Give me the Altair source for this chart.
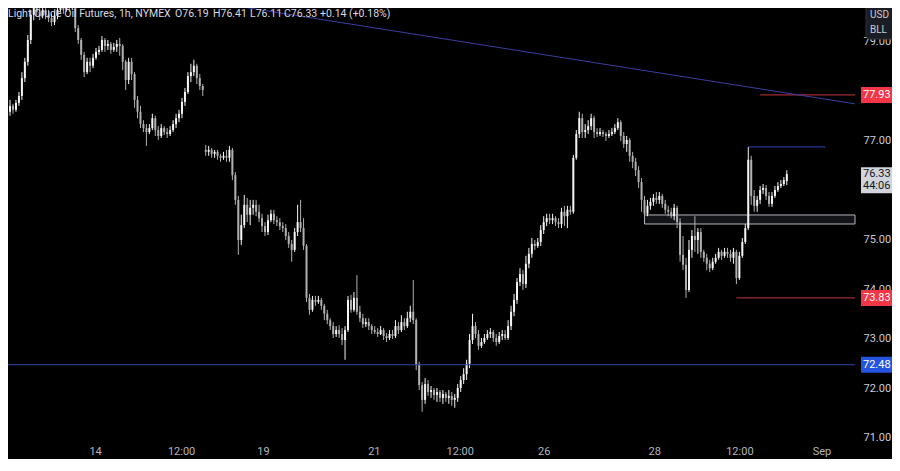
import altair as alt
import pandas as pd

# ---- hourly candles ----
opens = [77.42,77.59,77.71,77.63,77.77,77.91,78.27,78.60,79.04,79.55,79.75,79.61,79.53,79.65,79.55,79.48,79.40,79.53,79.65,79.73,
         79.65,79.77,79.69,79.77,79.28,79.04,78.74,78.39,78.60,78.52,78.68,78.80,78.84,79.04,78.92,78.96,78.84,78.90,78.96,78.92,
         78.60,78.23,78.60,78.35,77.83,77.59,77.34,77.26,77.18,77.26,77.46,77.22,77.10,77.26,77.18,77.14,77.22,77.34,77.46,77.55,
         77.79,77.99,78.31,78.39,78.52,78.27,78.11,76.82,76.78,76.82,76.74,76.78,76.70,76.66,76.70,76.66,76.82,76.31,75.81,75.00,
         75.30,75.71,75.51,75.65,75.71,75.57,75.44,75.28,75.16,75.40,75.53,75.40,75.36,75.28,75.24,75.08,74.92,74.80,75.16,75.36,
         75.24,74.88,73.83,73.59,73.79,73.75,73.79,73.67,73.51,73.38,73.26,73.10,73.18,73.10,72.98,73.18,73.79,73.59,73.83,73.55,
         73.42,73.30,73.34,73.26,73.18,73.14,73.10,73.18,73.06,73.02,73.10,73.06,73.26,73.18,73.34,73.26,73.42,73.55,73.38,72.48,
         72.07,71.77,72.09,71.93,71.97,71.87,71.93,71.81,71.89,71.81,71.85,71.77,71.81,72.01,72.17,72.29,72.50,72.98,73.26,73.10,
         72.86,72.94,73.02,73.10,73.14,73.02,72.94,73.06,73.10,73.02,73.26,73.55,73.79,74.15,74.31,74.11,74.52,74.72,74.92,74.88,
         74.96,75.20,75.36,75.44,75.40,75.44,75.36,75.32,75.57,75.48,75.61,75.57,76.66,77.14,77.46,77.18,77.22,77.30,77.46,77.18,
         77.14,77.18,77.14,77.10,77.14,77.18,77.26,77.38,77.10,76.94,77.02,76.70,76.58,76.41,76.17,75.81,75.53,75.69,75.77,75.85,
         75.81,75.89,75.73,75.61,75.57,75.48,75.65,75.36,74.70,74.50,73.99,74.80,75.08,75.00,75.16,74.76,74.64,74.52,74.43,74.56,
         74.64,74.76,74.68,74.76,74.72,74.64,74.76,74.23,74.68,74.96,75.24,76.62,75.89,75.69,75.81,76.01,76.05,75.89,75.73,75.89,
         76.01,76.09,76.13,76.19]
highs = [77.73,77.83,77.75,77.83,77.99,78.39,78.68,79.14,79.65,79.91,79.85,79.69,79.73,79.73,79.65,79.57,79.61,79.75,79.85,79.81,
         79.89,79.85,79.93,79.85,79.34,79.08,78.80,78.68,78.68,78.76,78.88,78.92,79.12,79.08,79.04,79.00,78.98,79.04,79.08,78.96,
         78.64,78.68,78.68,78.39,77.91,77.71,77.42,77.34,77.34,77.55,77.51,77.30,77.34,77.30,77.26,77.30,77.42,77.55,77.63,77.87,
         78.07,78.39,78.56,78.64,78.56,78.35,78.15,76.92,76.90,76.86,76.82,76.82,76.74,76.78,76.82,76.90,76.86,76.37,75.89,75.51,
         75.91,75.85,75.81,75.81,75.81,75.71,75.53,75.36,75.51,75.61,75.61,75.48,75.44,75.36,75.32,75.16,75.00,75.24,75.71,75.81,
         75.44,74.92,73.91,73.87,73.87,73.87,73.83,73.71,73.59,73.42,73.34,73.26,73.28,73.22,73.26,73.87,73.89,73.95,74.29,73.67,
         73.51,73.42,73.42,73.30,73.26,73.22,73.26,73.22,73.12,73.18,73.18,73.38,73.34,73.48,73.42,73.55,73.67,74.19,73.42,72.54,
         72.13,72.21,72.17,72.05,72.01,72.01,71.97,71.97,71.93,71.97,71.93,71.89,72.09,72.25,72.41,72.58,73.10,73.51,73.34,73.18,
         73.02,73.10,73.18,73.22,73.18,73.10,73.14,73.18,73.18,73.38,73.67,73.91,74.23,74.43,74.39,74.68,74.84,75.04,75.00,75.04,
         75.30,75.48,75.53,75.53,75.53,75.48,75.44,75.65,75.69,75.69,75.69,76.72,77.22,77.59,77.55,77.34,77.42,77.55,77.51,77.26,
         77.26,77.22,77.18,77.22,77.26,77.34,77.46,77.42,77.18,77.10,77.06,76.78,76.66,76.49,76.25,75.89,75.81,75.85,75.93,75.97,
         75.97,75.93,75.81,75.69,75.65,75.73,75.69,75.44,75.08,74.64,75.00,75.20,75.48,75.24,75.24,74.80,74.72,74.60,74.64,74.72,
         74.84,74.80,74.84,74.84,74.80,74.84,74.80,74.76,75.04,75.32,76.88,76.70,76.01,75.89,76.09,76.13,76.11,75.97,75.97,76.09,
         76.17,76.21,76.27,76.41]
lows = [77.34,77.51,77.55,77.59,77.71,77.83,78.19,78.52,78.96,79.44,79.53,79.44,79.48,79.46,79.40,79.32,79.34,79.46,79.61,79.57,
        79.61,79.61,79.65,79.20,78.96,78.64,78.29,78.35,78.39,78.47,78.64,78.74,78.80,78.80,78.84,78.76,78.80,78.80,78.72,78.43,
        78.03,78.15,78.23,77.67,77.46,77.26,77.18,76.90,77.14,77.22,77.10,77.02,77.06,77.12,77.06,77.10,77.18,77.26,77.38,77.46,
        77.71,77.95,78.19,78.31,78.15,78.03,77.91,76.70,76.70,76.66,76.66,76.62,76.58,76.62,76.58,76.58,76.21,75.71,74.70,74.90,
        75.24,75.36,75.30,75.51,75.48,75.36,75.16,75.08,75.10,75.36,75.32,75.28,75.20,75.16,75.00,74.84,74.56,74.76,75.08,75.16,
        74.80,73.75,73.49,73.55,73.67,73.71,73.59,73.38,73.30,73.18,73.02,73.04,73.02,72.88,72.58,73.14,73.53,73.55,73.49,73.34,
        73.22,73.24,73.18,73.10,73.10,73.04,73.08,72.98,72.94,72.98,73.00,73.02,73.10,73.14,73.18,73.22,73.34,73.30,72.37,71.97,
        71.53,71.69,71.85,71.81,71.77,71.73,71.73,71.69,71.73,71.69,71.65,71.61,71.73,71.93,72.09,72.17,72.41,72.90,73.02,72.78,
        72.82,72.90,72.98,73.02,72.94,72.86,72.90,72.98,72.98,72.98,73.18,73.46,73.71,74.07,73.99,74.03,74.43,74.64,74.80,74.84,
        74.88,75.12,75.28,75.32,75.32,75.28,75.24,75.24,75.28,75.24,75.51,75.53,76.62,77.06,77.06,77.06,77.14,77.22,77.06,77.08,
        77.10,77.08,77.00,77.06,77.10,77.14,77.22,77.00,76.86,76.78,76.58,76.45,76.29,76.05,75.57,75.44,75.48,75.61,75.69,75.73,
        75.73,75.65,75.53,75.48,75.44,75.40,75.24,74.56,74.39,73.83,73.95,74.64,74.76,74.72,74.64,74.56,74.39,74.35,74.39,74.52,
        74.60,74.60,74.64,74.64,74.56,74.52,74.11,74.19,74.64,74.92,75.20,75.71,75.57,75.57,75.73,75.93,75.81,75.67,75.67,75.85,
        75.97,76.05,76.09,76.11]
closes = [77.59,77.71,77.63,77.77,77.91,78.27,78.60,79.04,79.55,79.75,79.61,79.53,79.65,79.55,79.48,79.40,79.53,79.65,79.73,79.65,
          79.77,79.69,79.77,79.28,79.04,78.74,78.39,78.60,78.52,78.68,78.80,78.84,79.04,78.92,78.96,78.84,78.90,78.96,78.92,78.60,
          78.23,78.60,78.35,77.83,77.59,77.34,77.26,77.18,77.26,77.46,77.22,77.10,77.26,77.18,77.14,77.22,77.34,77.46,77.55,77.79,
          77.99,78.31,78.39,78.52,78.27,78.11,78.03,76.78,76.82,76.74,76.78,76.70,76.66,76.70,76.66,76.82,76.31,75.81,75.00,75.30,
          75.71,75.51,75.65,75.71,75.57,75.44,75.28,75.16,75.40,75.53,75.40,75.36,75.28,75.24,75.08,74.92,74.80,75.16,75.36,75.24,
          74.88,73.83,73.59,73.79,73.75,73.79,73.67,73.51,73.38,73.26,73.10,73.18,73.10,72.98,73.18,73.79,73.59,73.83,73.55,73.42,
          73.30,73.34,73.26,73.18,73.14,73.10,73.18,73.06,73.02,73.10,73.06,73.26,73.18,73.34,73.26,73.42,73.55,73.38,72.48,72.07,
          71.77,72.09,71.93,71.97,71.87,71.93,71.81,71.89,71.81,71.85,71.77,71.81,72.01,72.17,72.29,72.50,72.98,73.26,73.10,72.86,
          72.94,73.02,73.10,73.14,73.02,72.94,73.06,73.10,73.02,73.26,73.55,73.79,74.15,74.31,74.11,74.52,74.72,74.92,74.88,74.96,
          75.20,75.36,75.44,75.40,75.44,75.36,75.32,75.57,75.48,75.61,75.57,76.66,77.14,77.46,77.18,77.22,77.30,77.46,77.18,77.14,
          77.18,77.14,77.10,77.14,77.18,77.26,77.38,77.10,76.94,77.02,76.70,76.58,76.41,76.17,75.81,75.53,75.69,75.77,75.85,75.81,
          75.89,75.73,75.61,75.57,75.48,75.65,75.36,74.70,74.50,73.99,74.80,75.08,75.00,75.16,74.76,74.64,74.52,74.43,74.56,74.64,
          74.76,74.68,74.76,74.72,74.64,74.76,74.23,74.68,74.96,75.24,76.62,75.89,75.69,75.81,76.01,76.05,75.89,75.73,75.89,76.01,
          76.09,76.13,76.21,76.33]

# ---- axes ----
x_tick_pos = [29.7, 58.7, 86.3, 123.7, 152.7, 181, 218.3, 247, 274.7]
x_tick_labels = ["14", "12:00", "19", "21", "12:00", "26", "28", "12:00", "Sep"]
y_ticks = [71, 72, 73, 74, 75, 77, 79]   # 76 and 78 sit under the price tags

# ---- drawings ----
level_prices = [72.48, 77.93, 73.83, 76.88]
level_start = [0, 254, 246, 250]
level_end = [286, 286, 286, 276]
level_colors = ["#3343a6", "#c8343f", "#c8343f", "#3546b0"]
tag_prices = [77.93, 73.83, 72.48]
tag_text = ["77.93", "73.83", "72.48"]
tag_colors = ["#f23645", "#f23645", "#2454e0"]
trend_i = [60, 286]
trend_p = [79.89, 77.75]
zone = {"i0": 215, "i1": 286, "top": 75.505, "bottom": 75.323}
last_price = 76.33
countdown = "44:06"
title_parts = ["Light Crude Oil Futures, 1h, NYMEX", "O76.19", "H76.41", "L76.11", "C76.33", "+0.14 (+0.18%)"]
currency_lines = ["USD", "BLL"]

FONT = "Roboto"
W, H = 852, 434
XDOM = [2, 286]
YDOM = [70.919, 79.686]

df = pd.DataFrame({"i": list(range(len(closes))), "open": opens, "high": highs, "low": lows, "close": closes})
df["dir"] = ["up" if c >= o else "down" for o, c in zip(opens, closes)]

label_expr = "[" + ",".join("'%s'" % t for t in x_tick_labels) + "][indexof([" + ",".join(str(v) for v in x_tick_pos) + "], datum.value)]"

xs = alt.Scale(domain=XDOM, nice=False, zero=False)
ys = alt.Scale(domain=YDOM, nice=False, zero=False)

x_axis = alt.Axis(values=x_tick_pos, labelExpr=label_expr, title=None, grid=False, domain=False, ticks=False,
                  labelColor=alt.expr("datum.label == 'Sep' ? '#e8e8e8' : '#b2b5be'"),
                  labelFontWeight=alt.expr("datum.label == 'Sep' ? 'bold' : 'normal'"),
                  labelFont=FONT, labelFontSize=11, labelPadding=3, labelFlush=False, labelOverlap=False)
y_axis = alt.Axis(orient="right", values=y_ticks, format=".2f", title=None, grid=False, domain=False, ticks=False,
                  labelColor="#c9ccd4", labelFont=FONT, labelFontSize=11, labelPadding=3, labelFlush=False,
                  labelOverlap=False)

X = lambda f: alt.X(f, scale=xs, axis=x_axis)
Y = lambda f: alt.Y(f, scale=ys, axis=y_axis)

color = alt.Color("dir:N", scale=alt.Scale(domain=["up", "down"], range=["#f4f4f4", "#b0b0b0"]), legend=None)

base = alt.Chart(df)
wicks = base.mark_rule(strokeWidth=1, clip=True).encode(x=X("i:Q"), y=Y("low:Q"), y2="high:Q", color=color)
bodies = base.mark_bar(size=2, clip=True).encode(x=X("i:Q"), y=Y("open:Q"), y2="close:Q", color=color)

zone_df = pd.DataFrame([zone])
zone_rect = alt.Chart(zone_df).mark_rect(fill="#202126", fillOpacity=0.6, stroke="#b2b5be", strokeWidth=1, clip=True).encode(
    x=X("i0:Q"), x2="i1:Q", y=Y("top:Q"), y2="bottom:Q"
)

lv = pd.DataFrame({"p": level_prices, "s": level_start, "e": level_end, "c": level_colors})
levels = alt.Chart(lv).mark_rule(strokeWidth=1, clip=True).encode(
    x=X("s:Q"), x2="e:Q", y=Y("p:Q"), color=alt.Color("c:N", scale=None)
)

tr = pd.DataFrame({"i": trend_i, "p": trend_p})
trend = alt.Chart(tr).mark_line(strokeWidth=1, color="#3a3fa0", clip=True).encode(x=X("i:Q"), y=Y("p:Q"))

tg = pd.DataFrame({"p": tag_prices, "t": tag_text, "c": tag_colors})
tag_box = alt.Chart(tg).mark_rule(strokeWidth=16, strokeCap="butt").encode(
    x=alt.value(W + 1), x2=alt.value(W + 40), y=Y("p:Q"), color=alt.Color("c:N", scale=None)
)
tag_txt = alt.Chart(tg).mark_text(align="left", baseline="middle", font=FONT, fontSize=11, color="#ffffff").encode(
    x=alt.value(W + 3), y=Y("p:Q"), text="t:N"
)

cur = pd.DataFrame({"p": [last_price], "t": ["%.2f" % last_price], "cd": [countdown]})
cur_box = alt.Chart(cur).mark_rule(strokeWidth=26, strokeCap="butt", color="#d1d4dc", yOffset=6).encode(
    x=alt.value(W + 1), x2=alt.value(W + 40), y=Y("p:Q")
)
cur_t1 = alt.Chart(cur).mark_text(align="left", baseline="middle", font=FONT, fontSize=11, color="#131722").encode(
    x=alt.value(W + 3), y=Y("p:Q"), text="t:N"
)
cur_t2 = alt.Chart(cur).mark_text(align="left", baseline="middle", font=FONT, fontSize=11, color="#131722", yOffset=12).encode(
    x=alt.value(W + 3), y=Y("p:Q"), text="cd:N"
)

one = pd.DataFrame({"k": [0]})
ccy_box = alt.Chart(one).mark_rect(fill="#1b1d24", stroke="#2f323c", strokeWidth=1, cornerRadius=4).encode(
    x=alt.value(W + 6), x2=alt.value(W + 40), y=alt.value(-6), y2=alt.value(31)
)
ccy_layers = [
    alt.Chart(one).mark_text(align="left", baseline="middle", font=FONT, fontSize=10, color="#c9ccd4", text=t).encode(
        x=alt.value(W + 10), y=alt.value(yv)
    )
    for t, yv in zip(currency_lines, [7, 22])
]

title_x = [0, 167, 205, 242, 276, 312]
title_layers = [
    alt.Chart(one).mark_text(align="left", baseline="top", font=FONT, fontSize=10.5, color="#d8dae0", text=t).encode(
        x=alt.value(xv), y=alt.value(1)
    )
    for t, xv in zip(title_parts, title_x)
]

chart = alt.layer(
    zone_rect, wicks, bodies, levels, trend, *title_layers, tag_box, tag_txt, cur_box, cur_t1, cur_t2, ccy_box, *ccy_layers
).properties(
    width=W, height=H,
    autosize=alt.AutoSizeParams(type="none"),
    padding={"left": 0, "top": 0, "right": 32, "bottom": 17},
    background="#000000",
).configure_view(stroke=None).configure_axis(grid=False, domain=False, ticks=False)

chart.save("out.html", embed_options={"renderer": "svg", "actions": False})
